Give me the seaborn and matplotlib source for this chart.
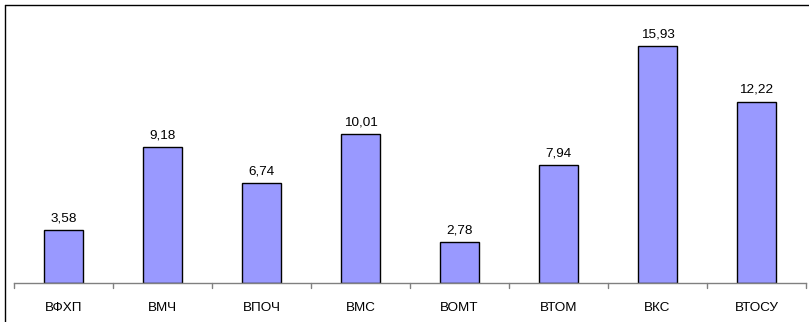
import matplotlib
matplotlib.use("Agg")
import matplotlib.pyplot as plt
import seaborn as sns
import pandas as pd
from matplotlib.lines import Line2D

categories = ["ВФХП", "ВМЧ", "ВПОЧ", "ВМС", "ВОМТ", "ВТОМ", "ВКС", "ВТОСУ"]
values = [3.58, 9.18, 6.74, 10.01, 2.78, 7.94, 15.93, 12.22]
value_labels = ["3,58", "9,18", "6,74", "10,01", "2,78", "7,94", "15,93", "12,22"]

df = pd.DataFrame({"cat": categories, "val": values})

sns.set_theme(style="white")
plt.rcParams['font.family'] = ['Liberation Sans', 'DejaVu Sans']

W, H = 809, 322
fig = plt.figure(figsize=(W / 100, H / 100), dpi=100)
left, right, bottom = 14, 806, 283
ymax = 18.0
ppu = 14.85
top = bottom - ymax * ppu
ax = fig.add_axes([left / W, 1 - bottom / H, (right - left) / W, (bottom - top) / H])

sns.barplot(data=df, x="cat", y="val", ax=ax, color="#9999FF", saturation=1,
            width=0.4, edgecolor="black", linewidth=1.0)
ax.set_xlim(-0.5, len(categories) - 0.5)
ax.set_ylim(0, ymax)
ax.set_xlabel("")
ax.set_ylabel("")
ax.set_yticks([])
for s in ["left", "right", "top"]:
    ax.spines[s].set_visible(False)
ax.spines["bottom"].set_color("#808080")
ax.spines["bottom"].set_linewidth(1.0)
ax.set_xticks(range(len(categories)))
ax.set_xticklabels(categories, fontsize=9.7, color="black")
ax.tick_params(axis="x", length=0, pad=14)
# boundary tick marks
for i in range(len(categories) + 1):
    ax.plot([i - 0.5, i - 0.5], [0, -5 / ppu], color="#808080", lw=1.0, clip_on=False)

for i, (v, lab) in enumerate(zip(values, value_labels)):
    ax.annotate(lab, (i, v), xytext=(0, 4), textcoords="offset points",
                ha="center", va="bottom", fontsize=9.7, color="black")

# chart-area border (left and top visible)
fig.add_artist(Line2D([4.5 / W, 4.5 / W], [0, 1 - 4.5 / H], transform=fig.transFigure, color="black", lw=1.0))
fig.add_artist(Line2D([4.5 / W, 1], [1 - 4.5 / H, 1 - 4.5 / H], transform=fig.transFigure, color="black", lw=1.0))

fig.savefig("out.png", dpi=100)
